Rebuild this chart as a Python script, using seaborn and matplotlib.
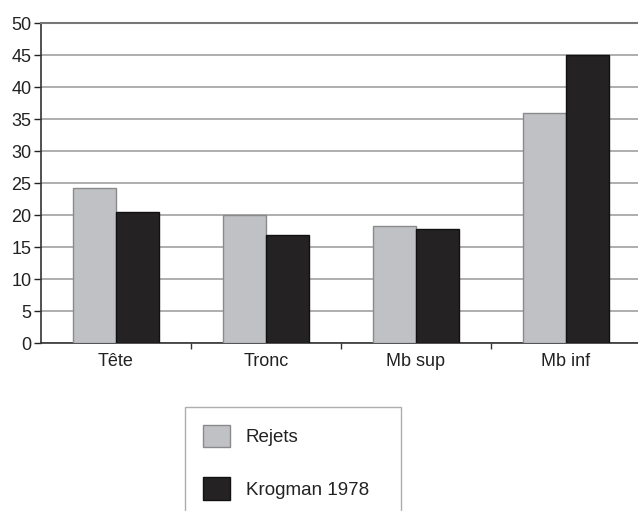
import matplotlib
matplotlib.use("Agg")
import matplotlib.pyplot as plt
import seaborn as sns
import pandas as pd

categories = ["Tête", "Tronc", "Mb sup", "Mb inf"]
series = ["Rejets", "Krogman 1978"]
rejets = [24.2, 20.0, 18.3, 35.9]
krogman = [20.5, 16.9, 17.8, 45.0]
y_ticks = [0, 5, 10, 15, 20, 25, 30, 35, 40, 45, 50]

colors = {"Rejets": "#c0c1c4", "Krogman 1978": "#252223"}
edges = {"Rejets": "#8a8a8c", "Krogman 1978": "#111111"}

df = pd.DataFrame({
    "Partie": categories * 2,
    "Valeur": rejets + krogman,
    "Série": [series[0]] * 4 + [series[1]] * 4,
})

sns.set_style("white")
plt.rcParams["font.family"] = ["Liberation Sans", "DejaVu Sans"]

fig = plt.figure(figsize=(6.38, 5.11), dpi=100)
ax = fig.add_axes([41 / 638, 1 - 343 / 511, 600 / 638, 320 / 511])

sns.barplot(data=df, x="Partie", y="Valeur", hue="Série", order=categories,
            hue_order=series, palette=colors, width=0.57, gap=0,
            linewidth=1, saturation=1, ax=ax, zorder=3)

for cont, s in zip(ax.containers, series):
    for p in cont:
        p.set_edgecolor(edges[s])
        p.set_linewidth(1)

ax.set_ylim(0, 50)
ax.set_xlim(-0.5, 3.5)
ax.set_yticks(y_ticks)
ax.yaxis.grid(True, color="#a8a8a8", linewidth=1.3, zorder=0)
ax.set_axisbelow(True)
ax.set_xlabel("")
ax.set_ylabel("")

ax.set_xticks([0.5, 1.5, 2.5], minor=True)
ax.tick_params(axis="x", which="major", length=0, labelsize=13, pad=7, colors="#222222")
ax.tick_params(axis="x", which="minor", length=4, width=1, direction="out", color="#333333", bottom=True)
ax.tick_params(axis="y", length=5, width=1, direction="out", labelsize=13, pad=2,
               colors="#222222", left=True)

for side in ["left", "bottom"]:
    ax.spines[side].set_color("#333333")
    ax.spines[side].set_linewidth(1.2)
ax.spines["top"].set_color("#777777")
ax.spines["top"].set_linewidth(1.5)
ax.spines["right"].set_visible(False)

ax.get_legend().remove()
handles = [plt.Rectangle((0, 0), 1, 1, facecolor=colors[s], edgecolor=edges[s], linewidth=1)
           for s in series]
leg = fig.legend(handles, series, loc="upper left", mode="expand",
                 bbox_to_anchor=(185 / 638, 1 - 407 / 511 - 0.01, 216 / 638, 0.01),
                 bbox_transform=fig.transFigure,
                 fontsize=13.5, frameon=True, fancybox=False, handlelength=1.45, handleheight=1.45,
                 labelspacing=1.62, handletextpad=0.85, borderpad=0.95, borderaxespad=0)
leg.get_frame().set_edgecolor("#999999")
leg.get_frame().set_linewidth(1)
for t in leg.get_texts():
    t.set_color("#222222")

fig.savefig("out.png", dpi=100)
